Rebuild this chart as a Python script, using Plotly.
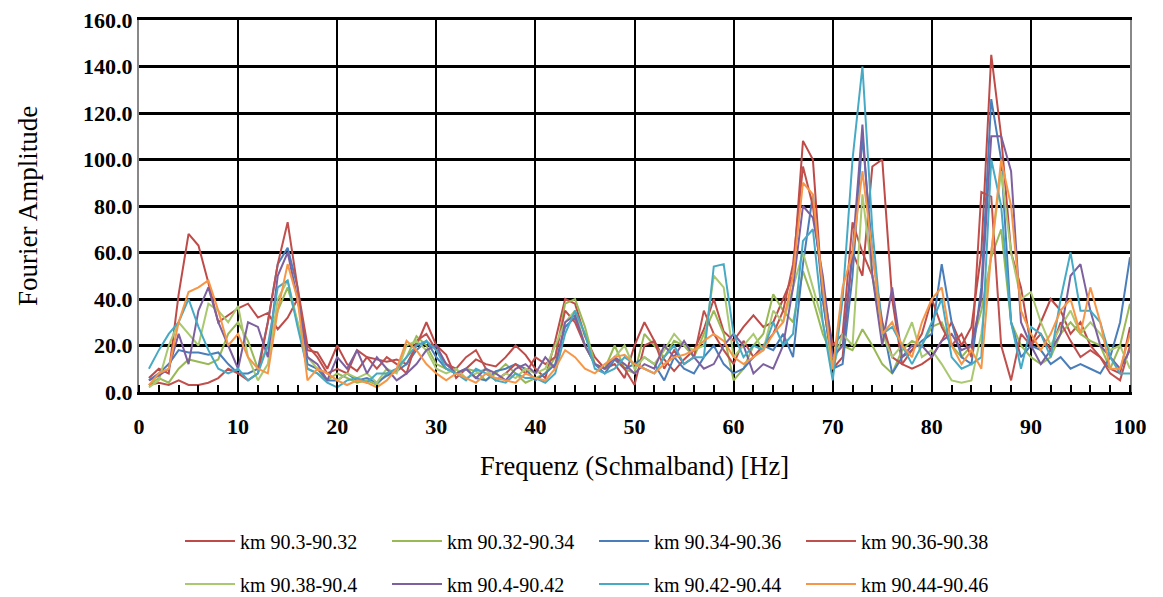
import plotly.graph_objects as go

freq = list(range(1, 101))

names = ["km 90.3-90.32", "km 90.32-90.34", "km 90.34-90.36", "km 90.36-90.38",
         "km 90.38-90.4", "km 90.4-90.42", "km 90.42-90.44", "km 90.44-90.46"]
colors = ["#BE4B48", "#98B954", "#4A7EBB", "#C0504D",
          "#A9C86F", "#7D60A0", "#46AAC5", "#F79646"]

s1 = [6, 10, 8, 42, 68, 63, 47, 30, 33, 36,
      38, 32, 34, 27, 32, 40, 18, 17, 10, 20,
      12, 9, 15, 14, 13, 14, 12, 20, 30, 20,
      16, 6, 10, 14, 12, 11, 15, 20, 16, 10,
      6, 22, 40, 38, 24, 15, 10, 12, 6, 20,
      30, 22, 14, 9, 14, 18, 27, 40, 26, 22,
      28, 33, 28, 30, 40, 50, 108, 100, 40, 10,
      15, 60, 50, 97, 100, 40, 12, 10, 12, 15,
      22, 30, 20, 28, 60, 145, 110, 60, 45, 20,
      30, 40, 35, 25, 30, 20, 15, 10, 8, 28]
s2 = [3, 6, 4, 10, 14, 13, 12, 14, 25, 30,
      22, 10, 20, 35, 45, 30, 10, 8, 5, 8,
      6, 4, 5, 3, 8, 9, 15, 24, 20, 12,
      10, 8, 10, 9, 5, 8, 12, 8, 4, 6,
      8, 15, 38, 40, 28, 12, 10, 20, 10, 8,
      25, 20, 15, 22, 20, 15, 25, 35, 25, 5,
      10, 20, 25, 42, 35, 30, 52, 40, 25, 15,
      20, 18, 27, 20, 12, 8, 18, 22, 20, 28,
      30, 20, 15, 20, 35, 58, 70, 30, 20, 15,
      12, 15, 25, 30, 25, 22, 20, 10, 20, 38]
s3 = [5, 8, 12, 18, 17, 17, 16, 17, 12, 8,
      8, 10, 30, 55, 62, 45, 12, 10, 5, 5,
      8, 5, 6, 4, 7, 9, 12, 18, 22, 15,
      10, 8, 10, 6, 5, 9, 10, 12, 10, 5,
      8, 12, 28, 32, 20, 12, 8, 14, 10, 12,
      15, 12, 5, 15, 10, 8, 15, 20, 12, 8,
      10, 15, 20, 18, 25, 15, 55, 85, 40, 10,
      12, 50, 110, 60, 30, 8, 15, 18, 22, 25,
      55, 30, 15, 12, 45, 126, 100, 30, 15, 20,
      18, 12, 15, 10, 12, 10, 8, 15, 30, 58]
s4 = [3, 4, 3, 5, 3, 3, 4, 6, 10, 8,
      5, 8, 30, 55, 73, 45, 20, 15, 8, 10,
      8, 18, 15, 10, 15, 12, 8, 22, 25, 18,
      12, 10, 15, 18, 10, 5, 8, 12, 8, 15,
      12, 15, 35, 30, 20, 12, 10, 15, 10, 3,
      20, 22, 10, 18, 12, 15, 35, 25, 18, 12,
      22, 15, 20, 25, 35, 55, 97, 80, 45, 20,
      25, 73, 60, 50, 30, 15, 12, 18, 25, 40,
      28, 20, 25, 15, 86, 84, 20, 5, 25, 20,
      25, 18, 30, 22, 15, 18, 15, 8, 5, 20]
s5 = [2, 5, 20, 30, 25, 20, 38, 35, 30, 37,
      15, 5, 12, 40, 48, 30, 15, 10, 8, 5,
      8, 6, 8, 4, 10, 8, 20, 22, 18, 10,
      8, 10, 6, 8, 10, 5, 8, 6, 10, 8,
      10, 20, 30, 35, 20, 12, 10, 15, 20, 10,
      15, 12, 18, 25, 20, 18, 20, 50, 45, 15,
      20, 25, 18, 35, 30, 45, 60, 45, 30, 10,
      25, 20, 85, 50, 25, 15, 20, 30, 15, 18,
      12, 5, 4, 5, 25, 60, 95, 60, 40, 43,
      30, 20, 28, 35, 25, 30, 25, 18, 20, 10]
s6 = [5, 7, 10, 25, 12, 35, 45, 30, 20, 10,
      30, 28, 15, 50, 60, 40, 15, 12, 5, 15,
      10, 18, 8, 15, 10, 5, 8, 12, 18, 20,
      12, 8, 10, 6, 10, 8, 5, 10, 12, 8,
      15, 10, 30, 33, 20, 12, 10, 15, 12, 8,
      12, 10, 20, 15, 22, 15, 10, 12, 20, 25,
      20, 8, 12, 10, 20, 45, 80, 75, 50, 15,
      20, 60, 115, 50, 20, 45, 15, 20, 20, 15,
      22, 25, 18, 20, 40, 110, 110, 95, 30, 20,
      12, 18, 25, 50, 55, 35, 20, 15, 10, 18]
s7 = [10, 18, 25, 30, 40, 28, 18, 10, 8, 10,
      5, 8, 20, 45, 48, 28, 10, 8, 4, 2,
      5, 6, 4, 8, 8, 10, 15, 20, 22, 18,
      10, 8, 5, 10, 8, 5, 4, 8, 6, 6,
      4, 8, 25, 35, 25, 10, 8, 10, 15, 12,
      10, 8, 15, 20, 12, 15, 15, 54, 55, 25,
      15, 20, 18, 30, 20, 25, 65, 70, 30, 5,
      40, 100, 140, 70, 25, 28, 20, 12, 20, 30,
      40, 15, 10, 12, 15, 100, 80, 30, 10, 28,
      25, 15, 40, 60, 35, 35, 30, 15, 8, 8]
s8 = [3, 8, 10, 30, 43, 45, 48, 35, 20, 25,
      15, 10, 8, 35, 55, 40, 5, 10, 8, 5,
      3, 5, 4, 2, 5, 10, 22, 18, 12, 8,
      5, 8, 6, 4, 8, 6, 5, 4, 8, 6,
      5, 10, 18, 15, 10, 8, 12, 15, 16, 12,
      10, 8, 12, 15, 16, 18, 22, 25, 22, 15,
      12, 15, 18, 25, 30, 50, 90, 85, 45, 10,
      45, 60, 95, 60, 25, 30, 20, 15, 30, 40,
      45, 20, 12, 18, 10, 60, 100, 80, 35, 25,
      18, 25, 35, 40, 25, 45, 30, 10, 10, 25]

series = [s1, s2, s3, s4, s5, s6, s7, s8]

x_ticks = [0, 10, 20, 30, 40, 50, 60, 70, 80, 90, 100]
y_ticks = [0, 20, 40, 60, 80, 100, 120, 140, 160]

FONT = "Liberation Serif"
FIG_H = 597

# page body has an 8px margin: figure coords = screen coords - 8
L, R, T, B = 131, 41, 12, 213
PH = FIG_H - T - B
PW = 1163 - L - R

fig = go.Figure()
for i, (nm, col, ys) in enumerate(zip(names, colors, series)):
    fig.add_trace(go.Scatter(
        x=freq, y=ys, name=nm, mode="lines",
        line=dict(color=col, width=2),
        legend="legend" if i < 4 else "legend2",
    ))

legend_common = dict(
    orientation="h", xanchor="left", yanchor="middle",
    xref="container", yref="container",
    font=dict(family=FONT, size=20, color="black"),
    entrywidth=142, entrywidthmode="pixels",
    bgcolor="rgba(0,0,0,0)", itemwidth=50,
    traceorder="normal",
)

fig.update_layout(
    width=1163, height=FIG_H,
    margin=dict(l=L, r=R, t=T, b=B),
    paper_bgcolor="white", plot_bgcolor="white",
    font=dict(family=FONT, size=16, color="black"),
    showlegend=True,
    legend=dict(x=172 / 1163, y=1 - 533 / FIG_H, **legend_common),
    legend2=dict(x=172 / 1163, y=1 - 576 / FIG_H, **legend_common),
    xaxis=dict(
        range=[0, 100], tickvals=x_ticks, ticktext=[str(v) for v in x_ticks],
        showgrid=True, gridcolor="black", gridwidth=2,
        ticks="", ticklabelstandoff=13,
        tickfont=dict(family=FONT, size=22, weight="bold", color="black"),
        showline=True, linecolor="black", linewidth=3, mirror=True,
        minor=dict(dtick=2, tick0=0, ticks="inside", ticklen=7, tickcolor="black",
                   tickwidth=1.5, showgrid=False),
        title=dict(text="Frequenz (Schmalband) [Hz]",
                   font=dict(family=FONT, size=26.5, color="black"), standoff=19),
        zeroline=False, automargin=False,
    ),
    yaxis=dict(
        range=[0, 160], tickvals=y_ticks, ticktext=["%.1f" % v for v in y_ticks],
        showgrid=True, gridcolor="black", gridwidth=3,
        ticks="", ticklabeloverflow="allow",
        tickfont=dict(family=FONT, size=22, weight="bold", color="black"),
        showline=True, linecolor="#888", linewidth=2, mirror=True,
        title=dict(text="Fourier Amplitude",
                   font=dict(family=FONT, size=27, color="black"), standoff=38),
        zeroline=False, automargin=False,
    ),
)

fig.write_html("out.html")
